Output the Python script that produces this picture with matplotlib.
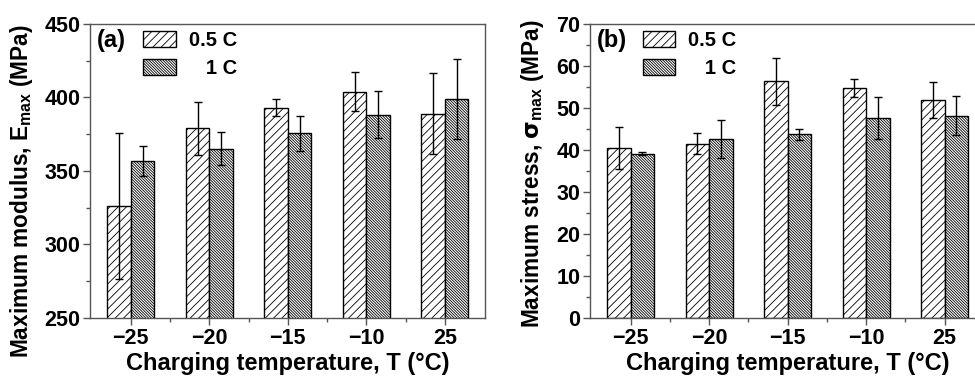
import numpy as np
import matplotlib
matplotlib.use("Agg")
import matplotlib.pyplot as plt
from matplotlib.ticker import MultipleLocator


# =========================================
# Data
# =========================================

temps = ["\u221225", "\u221220", "\u221215", "\u221210", "25"]

modulus_05c = [326.3, 379.1, 393.1, 403.8, 389.0]
modulus_05c_err = [49.5, 18.0, 5.7, 13.3, 27.3]

modulus_1c = [356.8, 365.2, 375.6, 388.1, 399.0]
modulus_1c_err = [10.0, 11.0, 11.8, 16.0, 27.2]

stress_05c = [40.5, 41.5, 56.3, 54.8, 51.9]
stress_05c_err = [5.0, 2.5, 5.5, 2.1, 4.3]

stress_1c = [39.1, 42.6, 43.7, 47.5, 48.2]
stress_1c_err = [0.3, 4.5, 1.4, 5.0, 4.6]


# =========================================
# Style
# =========================================

plt.rcParams["font.family"] = ["Liberation Sans", "DejaVu Sans"]
plt.rcParams["font.weight"] = "bold"
plt.rcParams["hatch.linewidth"] = 0.6
plt.rcParams["axes.linewidth"] = 1.0

spine_color = "#555555"
tick_size = 15.5
label_size = 17
ylabel_size = 16.3
legend_size = 14.5

x = np.arange(len(temps))
w = 0.3


# =========================================
# Figure
# =========================================

fig = plt.figure(figsize=(9.75, 3.78), dpi=100)

ax_a = fig.add_axes([0.0923, 0.1587, 0.405, 0.778])
ax_b = fig.add_axes([0.605, 0.1587, 0.405, 0.778])


def draw_panel(ax, v05, e05, v1, e1, ylim, major, minor, ylabel, tag, ylab_xy):

    ax.bar(
        x - w / 2, v05, w,
        color="white", edgecolor="black", linewidth=1.0,
        hatch="////", label="0.5 C", zorder=2
    )

    ax.bar(
        x + w / 2, v1, w,
        color="white", edgecolor="black", linewidth=1.0,
        hatch="\\" * 12, label="   1 C", zorder=2
    )

    ax.errorbar(
        x - w / 2, v05, yerr=e05,
        fmt="none", ecolor="black", elinewidth=1.0,
        capsize=3, capthick=1.0, zorder=3
    )

    ax.errorbar(
        x + w / 2, v1, yerr=e1,
        fmt="none", ecolor="black", elinewidth=1.0,
        capsize=3, capthick=1.0, zorder=3
    )

    ax.set_xlim(-0.52, 4.51)
    ax.set_ylim(*ylim)

    ax.set_xticks(x)
    ax.set_xticklabels(temps, fontsize=tick_size, fontweight="bold")
    ax.set_xticks(x[:-1] + 0.5, minor=True)

    ax.yaxis.set_major_locator(MultipleLocator(major))
    ax.yaxis.set_minor_locator(MultipleLocator(minor))
    for lab in ax.get_yticklabels():
        lab.set_fontsize(tick_size)
        lab.set_fontweight("bold")

    ax.tick_params(which="major", direction="out", length=5, width=1.0,
                   color=spine_color, pad=2)
    ax.tick_params(which="minor", direction="out", length=3, width=1.0,
                   color=spine_color)
    ax.tick_params(axis="both", top=False, right=False)

    for s in ax.spines.values():
        s.set_color(spine_color)

    ax.set_xlabel("Charging temperature, T (\u00b0C)",
                  fontsize=label_size, fontweight="bold", labelpad=2)
    ax.set_ylabel(ylabel, fontsize=ylabel_size, fontweight="bold")
    ax.yaxis.set_label_coords(*ylab_xy)

    ax.text(0.018, 0.945, tag, transform=ax.transAxes,
            fontsize=label_size, fontweight="bold", va="center", ha="left")

    ax.legend(
        loc="upper left", bbox_to_anchor=(0.135, 0.975),
        frameon=False, borderpad=0, borderaxespad=0,
        handlelength=1.6, handleheight=0.85,
        labelspacing=0.45, handletextpad=0.65,
        prop={"size": legend_size, "weight": "bold"}
    )


# =========================================
# Panels
# =========================================

draw_panel(
    ax_a, modulus_05c, modulus_05c_err, modulus_1c, modulus_1c_err,
    (250, 450), 50, 25,
    r"Maximum modulus, E$_{\mathregular{max}}$ (MPa)", "(a)",
    (-0.14, 0.43)
)

draw_panel(
    ax_b, stress_05c, stress_05c_err, stress_1c, stress_1c_err,
    (0, 70), 10, 5,
    r"Maximum stress, $\mathbf{\sigma}_{\mathregular{max}}$ (MPa)", "(b)",
    (-0.11, 0.49)
)


# =========================================
# Save
# =========================================

fig.savefig("out.png", dpi=100)
